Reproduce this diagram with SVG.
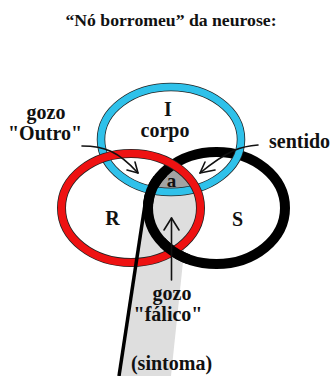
<svg xmlns="http://www.w3.org/2000/svg" width="331" height="376" viewBox="0 0 331 376">
<style>
.t{font-family:'Liberation Serif','Times New Roman','DejaVu Serif',Tinos,serif;font-weight:700;fill:#111;}
.lbl{font-size:20px;}
.edge{fill:none;stroke:#111;stroke-width:1.6;stroke-linecap:round;stroke-linejoin:round}
.outline{fill:none;stroke:#222}
</style>
<defs>
<clipPath id="inR"><ellipse cx="131" cy="208" rx="69.5" ry="54.5"/></clipPath>
<clipPath id="inS"><ellipse cx="216.5" cy="208" rx="68.5" ry="56"/></clipPath>
<clipPath id="patchBL"><rect x="138" y="176" width="30" height="28"/></clipPath>
<clipPath id="patchBot"><rect x="160" y="238" width="30" height="26"/></clipPath>
</defs>
<rect width="331" height="376" fill="#fff"/>
<text class="t" x="171" y="26" text-anchor="middle" font-size="17.7">“Nó borromeu” da neurose:</text>

<g id="shading">
<polygon points="147,195 190,195 171,376 119,376" fill="#dedede"/>
<g clip-path="url(#inS)"><ellipse cx="131" cy="208" rx="69.5" ry="54.5" fill="#dedede"/></g>
<g clip-path="url(#inS)"><g clip-path="url(#inR)"><ellipse cx="171" cy="139.5" rx="70" ry="52.5" fill="#a3a3a3"/></g></g>
</g>

<g id="ring-S">
<ellipse cx="216.5" cy="208" rx="68.5" ry="56" fill="none" stroke="#000" stroke-width="10"/>
</g>
<g id="ring-I">
<ellipse cx="171" cy="139.5" rx="70" ry="52.5" class="outline" stroke-width="8.5"/>
<ellipse cx="171" cy="139.5" rx="70" ry="52.5" fill="none" stroke="#2fc1ea" stroke-width="6.9"/>
</g>
<g id="ring-R">
<ellipse cx="131" cy="208" rx="69.5" ry="54.5" class="outline" stroke-width="9"/>
<ellipse cx="131" cy="208" rx="69.5" ry="54.5" fill="none" stroke="#ee1212" stroke-width="7.4"/>
</g>
<g id="ring-S-over">
<ellipse cx="216.5" cy="208" rx="68.5" ry="56" fill="none" stroke="#000" stroke-width="10" clip-path="url(#patchBL)"/>
<ellipse cx="216.5" cy="208" rx="68.5" ry="56" fill="none" stroke="#000" stroke-width="10" clip-path="url(#patchBot)"/>
</g>

<g id="connectors">
<line x1="146" y1="198" x2="119" y2="376" stroke="#000" stroke-width="3.5"/>
<path class="edge" d="M82,146 C104,146 118,151 138,173"/>
<path class="edge" d="M127,170 L138,173 L135,162"/>
<path class="edge" d="M258,145 C242,146 228,150 200,173"/>
<path class="edge" d="M205,162 L200,173 L215,170"/>
<path class="edge" d="M171.5,280 L171.5,218"/>
<path class="edge" d="M164,230 L171.5,218 L179,230"/>
</g>

<g id="labels">
<text class="t lbl" x="168" y="116" text-anchor="middle" font-size="19">I</text>
<text class="t lbl" x="165" y="137" text-anchor="middle">corpo</text>
<text class="t lbl" x="46" y="119" text-anchor="middle">gozo</text>
<text class="t lbl" x="45" y="140" text-anchor="middle">"Outro"</text>
<text class="t lbl" x="269" y="148">sentido</text>
<text class="t" x="171.5" y="187" text-anchor="middle" font-size="19">a</text>
<text class="t lbl" x="112.5" y="225" text-anchor="middle">R</text>
<text class="t lbl" x="237.5" y="226" text-anchor="middle">S</text>
<text class="t lbl" x="172" y="300" text-anchor="middle">gozo</text>
<text class="t lbl" x="168" y="321" text-anchor="middle">"fálico"</text>
<text class="t lbl" x="171.5" y="370" text-anchor="middle">(sintoma)</text>
</g>
</svg>
